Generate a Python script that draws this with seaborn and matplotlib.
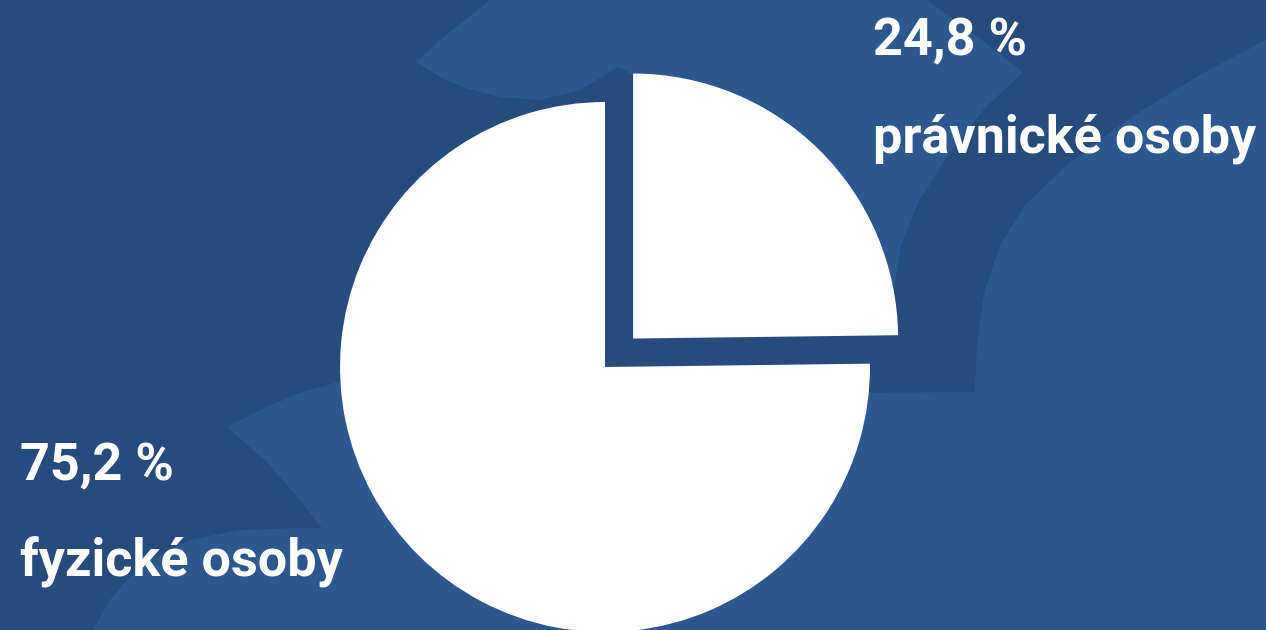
import matplotlib
matplotlib.use("Agg")
import matplotlib.pyplot as plt
from matplotlib.path import Path
from matplotlib.patches import PathPatch
import seaborn as sns

# ---- data ----
categories = ["právnické osoby", "fyzické osoby"]
values = [24.8, 75.2]
value_labels = [f"{v:.1f} %".replace(".", ",") for v in values]

# ---- style ----
sns.set_theme(style="white")
plt.rcParams["font.family"] = ["Roboto", "DejaVu Sans"]

DARK = "#264c7e"
LIGHT = "#2b598f"
W, H = 1266, 630

fig = plt.figure(figsize=(W / 100, H / 100), dpi=100, facecolor=DARK)
ax = fig.add_axes([0, 0, 1, 1])
ax.set_facecolor(DARK)


def Y(y):
    return H - y


def shape(pts, color, z=0):
    verts = [(p[0], Y(p[1])) for p in pts]
    codes = [Path.MOVETO] + [Path.LINETO] * (len(pts) - 1)
    verts.append(verts[0])
    codes.append(Path.CLOSEPOLY)
    ax.add_patch(PathPatch(Path(verts, codes), facecolor=color, edgecolor="none", zorder=z))


# decorative background shapes
top_light = [
    (417, 62), (440, 40), (465, 20), (490, 0), (927, 0), (975, 35), (1023, 72),
    (985, 108), (948, 155), (918, 203), (901, 245), (894, 290), (893, 318),
    (884, 330), (700, 300), (650, 100), (640, 78), (618, 67),
    (580, 90), (540, 100), (500, 97), (465, 88), (440, 77)]
shape(top_light, LIGHT)

right_light = [
    (975, 392), (977, 340), (985, 290), (1000, 245), (1025, 205), (1067, 165),
    (1130, 118), (1200, 75), (1266, 40), (1266, 630), (600, 630), (600, 395)]
shape(right_light, LIGHT)

bl1 = [(227, 427), (260, 410), (300, 393), (345, 380), (620, 380), (620, 630),
       (380, 630), (360, 575), (335, 545), (300, 500), (265, 460)]
shape(bl1, LIGHT)

bl2 = [(93, 630), (110, 600), (140, 565), (190, 540), (240, 530), (300, 528),
       (620, 530), (620, 630)]
shape(bl2, LIGHT)

# ---- pie ----
cx, cy, r = 605, Y(367), 265
explode = [40, 0]
wedges, _ = ax.pie(values, radius=r, center=(cx, cy), startangle=90,
                   counterclock=False, explode=explode,
                   colors=["white", "white"],
                   wedgeprops=dict(linewidth=0, edgecolor="none"))
for w in wedges:
    w.set_zorder(3)

ax.set_xlim(0, W)
ax.set_ylim(0, H)
ax.set_aspect("auto")
ax.axis("off")

# ---- labels ----
fs = 37.5
txt = dict(color="white", fontsize=fs, fontweight="bold", va="baseline",
           ha="left", zorder=5)
ax.text(873, Y(55), value_labels[0], **txt)
ax.text(873, Y(152), categories[0], **txt)
ax.text(20, Y(480), value_labels[1], **txt)
ax.text(20, Y(577), categories[1], **txt)

fig.savefig("out.png", dpi=100, facecolor=DARK)
